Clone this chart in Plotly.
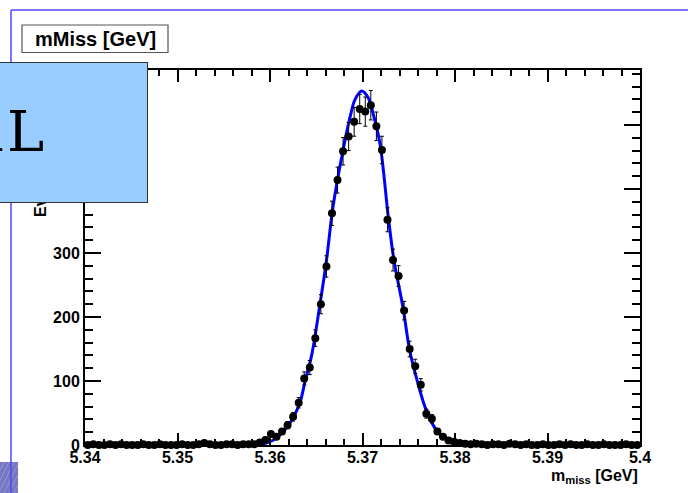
import numpy as np
import plotly.graph_objects as go

# ---------------- data ----------------
hist_lo = 5.34
hist_bin_width = 0.0006
counts_left_tail = [0, 1, 0, 0, 1, 0, 1, 0, 0, 0, 1, 0, 0, 1, 0, 0, 0, 1, 0, 0,
                    1, 3, 1, 0, 0, 1, 1, 0, 1, 1]
counts_peak = [1, 4, 8, 17, 13, 21, 31, 44, 66, 104, 121, 167, 220, 279, 362,
               414, 459, 482, 505, 525, 521, 531, 498, 461, 352, 289, 264, 210,
               150, 123, 94, 49, 41, 21, 13, 7, 5]
counts_right_tail = [3, 2, 1, 2, 1, 0, 1, 1, 0, 2, 1, 0, 1, 0, 0, 1, 0, 0, 1, 0,
                     1, 0, 0, 1, 0, 0, 1, 0, 0, 0, 1, 0, 0]
counts = np.array(counts_left_tail + counts_peak + counts_right_tail, dtype=float)
bin_centers = hist_lo + hist_bin_width * (np.arange(len(counts)) + 0.5)
count_errors = np.sqrt(counts)

# fit curve values
fit_x = [5.3400, 5.3524, 5.3578, 5.3596, 5.3608, 5.3620, 5.3632, 5.3638, 5.3645,
         5.3654, 5.3661, 5.3668, 5.3679, 5.3687, 5.3692, 5.3699, 5.3706, 5.3712,
         5.3719, 5.3728, 5.3734, 5.3744, 5.3751, 5.3760, 5.3769, 5.3780, 5.3795,
         5.3805, 5.3820, 5.3903, 5.4000]
fit_y = [0.3, 0.3, 0.6, 3, 12, 31, 65, 100, 140, 220, 288, 371, 461, 515, 540,
         553, 543, 515, 470, 355, 289, 213, 148, 96, 54, 23, 5, 2, 0.6, 0.3, 0.3]

x_tick_vals = [5.34, 5.35, 5.36, 5.37, 5.38, 5.39, 5.40]
x_tick_text = ["5.34", "5.35", "5.36", "5.37", "5.38", "5.39", "5.4"]
y_tick_vals = [0, 100, 200, 300, 400, 500]
y_tick_text = ["0", "100", "200", "300", "400", "500"]

X_RANGE = [5.34, 5.40]
Y_RANGE = [0, 586]

# ---------------- geometry helpers ----------------
W, H = 688, 493
L, R, T, B = 85, 640, 70, 445


def xp(px):
    return (px - L) / (R - L)


def yp(py):
    return (B - py) / (B - T)


BOLD = dict(family="Liberation Sans, Arial", color="black", weight="bold")

fig = go.Figure()

fig.add_trace(go.Scatter(
    x=fit_x, y=fit_y, mode="lines",
    line=dict(color="#0000ff", width=3, shape="spline", smoothing=1.0),
    hoverinfo="skip", showlegend=False,
))

fig.add_trace(go.Scatter(
    x=bin_centers, y=counts, mode="markers",
    marker=dict(color="black", size=8, symbol="circle"),
    error_y=dict(type="data", array=count_errors, visible=True,
                 color="black", thickness=1, width=2),
    cliponaxis=False, showlegend=False,
))

# invisible trace so the mirrored (top/right) tick axes get drawn
fig.add_trace(go.Scatter(x=[None], y=[None], xaxis="x2", yaxis="y2",
                         mode="markers", showlegend=False, hoverinfo="skip"))

shapes = []
# hatched square bottom-left
shapes.append(dict(type="rect", xref="paper", yref="paper",
                   x0=xp(0), x1=xp(18), y0=yp(493), y1=yp(462),
                   fillcolor="#7676c2", line=dict(width=0), layer="above"))
for s in range(-16, 20, 5):
    xa, ya, xb, yb = s, 493.0, s + 15.0, 462.0
    if xa < 0:
        ya = 493.0 - (0 - s) * (31.0 / 15.0)
        xa = 0
    if xb > 18:
        yb = 493.0 - (18 - s) * (31.0 / 15.0)
        xb = 18
    if xb > xa:
        shapes.append(dict(type="line", xref="paper", yref="paper",
                           x0=xp(xa), y0=yp(ya), x1=xp(xb), y1=yp(yb),
                           line=dict(color="#a0a0dc", width=0.8), layer="above"))
# blue frame
shapes.append(dict(type="line", xref="paper", yref="paper",
                   x0=xp(11), x1=xp(700), y0=yp(10), y1=yp(10),
                   line=dict(color="#4848ff", width=1.5), layer="above"))
shapes.append(dict(type="line", xref="paper", yref="paper",
                   x0=xp(11), x1=xp(11), y0=yp(10), y1=yp(500),
                   line=dict(color="#4848ff", width=1.5), layer="above"))
# title box
shapes.append(dict(type="rect", xref="paper", yref="paper",
                   x0=xp(22), x1=xp(168), y0=yp(52.5), y1=yp(25),
                   fillcolor="white", line=dict(color="#555555", width=1.2),
                   layer="above"))

annotations = [
    dict(text="mMiss [GeV]", x=xp(95), y=yp(39), xref="paper", yref="paper",
         xanchor="center", yanchor="middle", showarrow=False,
         font=dict(size=20, **BOLD)),
    dict(text="m<sub>miss</sub> [GeV]", x=xp(640), y=yp(476), xref="paper",
         yref="paper", xanchor="right", yanchor="middle", showarrow=False,
         font=dict(size=16, **BOLD)),
    dict(text="Events / ( 0.0006 )", x=xp(40), y=yp(219), xref="paper",
         yref="paper", xanchor="center", yanchor="bottom", textangle=-90,
         showarrow=False, font=dict(size=16, **BOLD)),
    # overlay box from slide
    dict(text=" ", x=xp(148), y=yp(62), xref="paper", yref="paper",
         xanchor="right", yanchor="top", width=180, height=139,
         bgcolor="#99ccff", bordercolor="#333333", borderwidth=1, borderpad=0,
         showarrow=False, font=dict(size=10)),
    dict(text="SIGNA", x=xp(4), y=yp(131), xref="paper", yref="paper",
         xanchor="right", yanchor="middle", showarrow=False,
         font=dict(family="DejaVu Serif", size=56, color="black")),
    dict(text="L", x=xp(46), y=yp(131), xref="paper", yref="paper",
         xanchor="right", yanchor="middle", showarrow=False,
         font=dict(family="DejaVu Serif", size=56, color="black")),
]

fig.update_layout(
    width=W, height=H,
    margin=dict(l=L, r=W - R, t=T, b=H - B, pad=0),
    paper_bgcolor="white", plot_bgcolor="white",
    shapes=shapes, annotations=annotations, showlegend=False,
)

common_tick = dict(ticks="inside", tickwidth=1.5, tickcolor="black",
                   showline=True, linecolor="black", linewidth=2,
                   showgrid=False, zeroline=False)

fig.update_layout(
    xaxis=dict(range=X_RANGE, tickmode="array", tickvals=x_tick_vals,
               ticktext=x_tick_text, ticklen=12, mirror=True,
               tickfont=dict(size=16, **BOLD), ticklabelstandoff=-3,
               minor=dict(tickmode="linear", tick0=5.34, dtick=0.002,
                          ticks="inside", ticklen=6, tickwidth=1.5,
                          tickcolor="black", showgrid=False),
               **common_tick),
    yaxis=dict(range=Y_RANGE, tickmode="array", tickvals=y_tick_vals,
               ticktext=y_tick_text, ticklen=16, mirror=True,
               tickfont=dict(size=16, **BOLD),
               minor=dict(tickmode="linear", tick0=0, dtick=20,
                          ticks="inside", ticklen=8, tickwidth=1.5,
                          tickcolor="black", showgrid=False),
               **common_tick),
    xaxis2=dict(range=X_RANGE, overlaying="x", side="top", anchor="y2",
                tickmode="array", tickvals=x_tick_vals, ticklen=12,
                showticklabels=False,
                minor=dict(tickmode="linear", tick0=5.34, dtick=0.002,
                           ticks="inside", ticklen=6, tickwidth=1.5,
                           tickcolor="black", showgrid=False),
                **common_tick),
    yaxis2=dict(range=Y_RANGE, overlaying="y", side="right", anchor="x2",
                tickmode="array", tickvals=y_tick_vals, ticklen=16,
                showticklabels=False,
                minor=dict(tickmode="linear", tick0=0, dtick=20,
                           ticks="inside", ticklen=8, tickwidth=1.5,
                           tickcolor="black", showgrid=False),
                **common_tick),
)

fig.write_html("out.html",
               config={"displayModeBar": False},
               post_script="document.body.style.margin='0';")
